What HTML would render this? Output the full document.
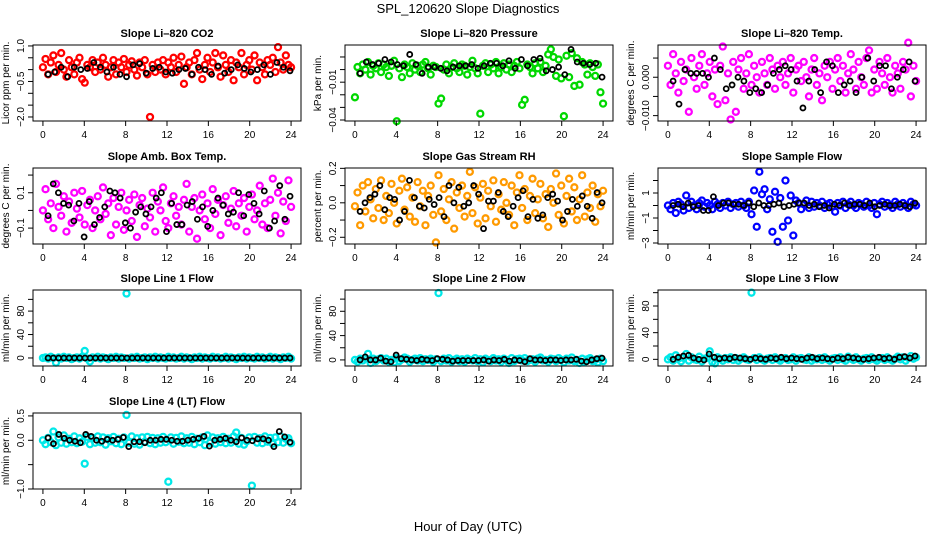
<!DOCTYPE html>
<html><head><meta charset="utf-8"><style>
body{margin:0;background:#fff}
svg{display:block;font-family:"Liberation Sans",sans-serif}
</style></head><body>
<svg id="c" width="936" height="540" viewBox="0 0 936 540">
<text x="468" y="13" text-anchor="middle" font-size="13">SPL_120620  Slope Diagnostics</text>
<text x="468" y="531" text-anchor="middle" font-size="13">Hour of Day (UTC)</text>
</svg>
<script>
const xTicks=[0,4,8,12,16,20,24];
const co2=[0.1,0.45,-0.2,0.3,0.6,-0.1,0.2,0.7,0.0,-0.3,0.4,0.1,-0.2,0.3,0.5,-0.4,-0.55,0.2,0.1,0.4,-0.1,0.3,0.0,0.5,0.2,-0.3,0.1,0.4,-0.2,0.3,0.1,0.45,-0.1,0.2,0.35,0.0,-0.25,0.3,0.1,0.4,-0.2,-2.0,0.2,-0.1,0.3,0.0,0.4,-0.2,0.3,0.1,0.5,-0.1,0.2,0.55,-0.6,0.1,0.3,-0.2,0.4,0.7,0.0,-0.4,0.2,0.5,-0.1,0.3,0.7,0.1,-0.3,0.6,0.2,-0.1,0.4,-0.45,0.3,0.1,0.7,-0.2,0.2,0.4,0.0,0.6,-0.45,0.3,0.1,-0.2,0.4,0.2,0.5,-0.1,0.95,0.3,0.0,0.6,0.2,0.1];
const co2K=[-0.2,-0.1,0.1,-0.3,0.1,0.0,0.05,0.3,0.1,-0.1,0.1,-0.2,-0.3,0.2,0.25,-0.15,0.05,0.1,-0.1,-0.15,0.0,0.05,-0.2,0.1,0.0,-0.2,0.15,-0.15,0.0,0.2,0.05,-0.1,0.0,0.2,-0.2,0.3,0.1,-0.05];
const press=[-0.022,0.002,-0.003,0.004,0.000,0.006,-0.004,0.003,0.001,0.005,-0.002,0.004,0.002,-0.005,0.003,0.007,-0.041,0.001,-0.006,0.004,0.002,-0.003,0.005,0.000,0.003,-0.002,0.004,0.006,0.001,-0.004,0.003,0.002,-0.027,-0.023,0.000,0.004,-0.003,0.002,0.005,0.001,-0.002,0.004,0.003,-0.004,0.002,0.007,0.001,-0.003,-0.035,0.003,0.005,-0.002,0.004,0.001,0.006,-0.003,0.002,0.005,0.000,0.004,-0.002,0.003,0.006,0.001,-0.028,-0.024,0.004,0.002,-0.003,0.005,0.001,0.006,-0.002,0.003,0.012,0.016,0.010,-0.005,0.008,-0.007,-0.037,0.011,-0.006,0.013,-0.013,0.009,-0.012,0.006,0.004,-0.004,0.005,0.002,-0.005,0.004,-0.018,-0.027];
const pressK=[-0.003,0.006,0.004,0.005,0.008,0.006,0.004,0.003,0.012,0.004,-0.003,0.002,0.002,0.001,-0.001,0.002,0.003,0.003,0.004,0.001,0.003,0.005,0.005,0.003,0.007,0.001,0.008,0.003,0.008,0.009,-0.001,0.000,0.002,-0.004,0.016,0.006,0.005,0.004,0.005,-0.006];
const temp=[0.003,-0.002,0.006,0.001,-0.004,0.004,-0.001,0.002,-0.009,0.005,0.000,-0.003,0.003,0.006,-0.002,0.001,0.004,-0.005,0.002,-0.007,0.003,0.008,-0.006,0.001,-0.011,0.004,-0.009,0.002,0.005,-0.003,0.001,0.006,-0.002,0.003,0.000,-0.004,0.004,0.001,-0.002,0.005,0.002,-0.003,0.003,0.000,0.004,-0.002,0.001,0.005,-0.004,0.002,0.003,-0.001,0.004,0.000,-0.005,0.002,0.005,-0.002,0.001,-0.006,0.003,0.000,0.004,-0.003,0.002,0.005,-0.001,0.003,-0.004,0.001,0.006,0.002,-0.003,0.004,0.000,-0.002,0.005,0.007,-0.004,0.002,-0.003,0.004,0.001,-0.002,0.005,0.000,-0.004,0.003,0.001,-0.003,0.004,0.002,0.009,-0.005,0.003,-0.001];
const tempK=[-0.001,-0.007,0.002,0.001,0.001,0.001,0.000,0.005,0.002,-0.003,-0.002,0.000,-0.001,-0.004,-0.003,-0.004,-0.002,0.001,0.002,0.003,0.002,-0.001,-0.008,-0.001,0.002,-0.004,0.004,0.003,-0.004,-0.002,-0.001,-0.004,0.000,0.005,-0.001,0.003,0.003,-0.003,0.000,0.002,0.004,-0.001];
const amb=[0.0,0.12,-0.05,0.04,-0.1,0.15,0.02,-0.03,0.08,-0.12,0.05,-0.07,0.1,0.01,-0.04,0.11,-0.08,0.03,0.06,-0.1,0.0,0.08,-0.05,0.13,-0.02,0.04,-0.14,0.07,-0.08,0.02,0.1,-0.11,0.0,0.06,-0.06,0.09,-0.15,0.03,0.07,-0.09,0.01,-0.04,0.1,-0.12,0.05,0.0,0.13,-0.06,-0.1,0.04,0.08,-0.03,0.02,-0.08,0.06,0.15,-0.12,0.02,0.07,-0.16,0.0,0.09,-0.05,0.04,-0.1,0.12,-0.02,0.06,-0.14,0.03,0.08,-0.07,0.01,0.11,-0.09,0.04,-0.03,0.07,-0.12,0.02,0.09,-0.05,0.0,0.14,-0.08,0.04,-0.1,0.06,0.18,-0.03,0.1,-0.13,0.05,-0.06,0.17,0.02];
const ambK=[-0.03,0.15,0.1,0.04,0.03,-0.06,0.04,-0.15,0.05,-0.08,-0.04,0.02,0.11,0.1,0.07,-0.07,-0.1,-0.01,0.02,-0.02,0.02,0.07,0.1,-0.12,0.04,-0.08,-0.08,0.03,0.05,-0.05,0.02,-0.09,0.0,0.07,0.03,-0.02,-0.01,0.1,-0.03,0.09,0.04,-0.02,0.11,-0.1,-0.06,0.14,-0.05,0.08];
const rh=[-0.02,0.06,-0.13,0.1,-0.05,0.12,0.02,-0.09,0.08,-0.03,0.13,-0.1,0.04,-0.06,0.11,0.0,-0.12,0.07,0.14,-0.04,0.09,-0.08,0.03,-0.11,0.12,-0.02,0.07,-0.13,0.04,0.1,-0.07,-0.23,0.16,-0.05,0.08,-0.1,0.02,0.12,-0.15,0.06,-0.03,0.1,-0.08,0.04,0.18,-0.06,0.09,-0.12,0.03,0.11,-0.09,0.07,-0.02,0.13,-0.11,0.05,-0.04,0.12,0.0,-0.07,0.1,-0.13,0.06,0.16,-0.03,0.08,-0.1,0.04,0.14,-0.06,0.02,0.11,-0.09,0.05,-0.14,0.08,0.0,0.17,-0.07,0.1,-0.12,0.04,0.14,-0.05,0.09,-0.1,0.02,0.16,-0.08,0.06,-0.03,0.1,-0.11,0.05,-0.02,0.07];
const rhK=[-0.05,0.0,0.03,0.05,0.1,-0.04,0.03,0.02,-0.1,-0.05,0.13,0.03,-0.02,-0.03,0.02,-0.01,0.03,-0.08,0.1,0.0,0.09,-0.02,0.0,0.1,0.05,-0.15,0.01,0.01,0.06,-0.05,-0.08,-0.02,0.03,0.07,-0.08,0.02,-0.09,-0.07,0.03,0.05,0.01,-0.1,-0.05,0.02,-0.02,0.04,-0.02,-0.09,0.06,0.0];
const samp=[0.0,-0.3,0.2,-0.6,0.3,0.1,-0.4,0.8,-0.2,0.3,0.0,-0.3,0.2,0.4,-0.1,0.2,0.0,-0.3,0.3,0.1,-0.2,0.2,0.0,0.3,-0.2,0.1,0.2,-0.1,0.3,0.0,-0.2,0.3,-0.7,1.2,-1.7,2.7,0.9,1.3,-0.3,0.5,-2.1,1.1,-2.9,0.6,-1.7,2.0,-1.2,0.8,-2.4,0.4,0.2,-0.3,0.1,0.4,-0.2,0.3,-0.1,0.2,0.0,0.3,-0.2,0.1,0.2,-0.1,-0.5,0.2,0.0,0.3,-0.2,0.1,0.3,0.0,-0.2,0.2,0.1,-0.1,0.3,0.0,-0.2,0.2,-0.7,0.1,0.3,-0.1,0.2,0.0,-0.2,0.3,0.1,-0.1,0.2,0.0,-0.2,0.3,0.1,0.0];
const sampK=[0.0,0.1,-0.1,0.2,-0.1,0.0,-0.4,-0.4,0.7,0.0,0.2,0.2,0.1,0.1,0.0,0.2,-0.1,0.2,0.0,0.0,0.1,0.2,-0.1,0.0,0.1,0.2,0.2,0.0,0.1,-0.1,0.0,-0.2,0.1,0.0,0.2,0.0,0.1,0.1,0.0,0.2,-0.1,0.0,0.1,0.0,0.0,0.1,0.0,-0.1,0.2];
const line1=[0,1,-1,2,0,-8,1,-1,2,0,1,-2,0,1,-1,2,12,-1,-6,1,0,2,-1,1,0,-2,1,0,2,-1,1,0,110,-1,1,0,2,-1,0,1,-2,1,0,2,-1,1,0,-1,2,0,1,-1,0,2,-1,1,0,-2,1,0,2,-1,1,0,-1,2,0,1,-1,0,2,-1,1,0,-2,1,0,2,-1,1,0,-1,2,0,1,-1,0,2,-1,1,0,-2,1,0,2,-1];
const line1K=[0,0,0,0,0,0,0,0,0,0,0,0,0,0,0,0,0,0,0,0,0,0,0,0,0,0,0,0,0,0,0,0,0,0,0,0,0,0,0,0,0,0,0,0,0,0,0];
const line2=[0,-3,2,-1,3,10,-5,2,-2,1,3,-1,2,-3,0,-4,3,-2,1,4,2,-3,0,2,-1,3,-2,1,0,2,-3,1,110,-2,2,-1,3,-3,0,2,-2,1,-3,2,0,-1,3,-2,1,-4,2,0,-2,3,-1,1,-3,2,0,-5,3,-2,1,2,-1,3,-2,0,1,-3,2,4,-1,0,-3,2,1,-2,3,0,-4,2,-1,4,-2,0,-5,2,-3,1,3,-2,0,-4,2,-2];
const line2K=[0,5,0,0,3,-2,-3,8,2,1,0,-1,1,0,-1,2,1,0,-2,-1,-1,-1,-1,-1,0,-2,0,-1,1,-2,0,-1,-3,2,0,0,-1,0,0,-1,0,0,1,-2,-3,0,2,3];
const line3=[0,3,-2,6,1,-3,2,8,-2,3,0,-1,4,-3,1,2,12,-4,-6,3,1,-2,2,0,3,-1,2,-2,1,3,0,-1,100,2,-1,3,0,-2,1,2,-1,3,0,-2,1,2,-1,0,3,-2,1,2,0,-1,3,-2,1,0,2,-1,3,0,-2,1,2,-1,3,0,-2,4,1,-1,3,0,-2,1,2,-1,3,0,-2,1,2,-1,3,0,-2,1,4,0,3,-2,2,5,1,3];
const line3K=[0,3,5,6,2,0,-1,8,3,1,2,1,3,2,1,0,2,1,0,2,1,3,1,2,1,0,2,3,1,2,1,0,2,1,3,2,1,0,1,2,3,1,2,0,3,4,2,5];
const line4=[0.0,-0.08,0.05,-0.04,0.18,-0.1,0.06,-0.05,0.1,-0.07,0.03,-0.04,0.08,-0.06,0.04,-0.03,-0.48,0.07,-0.08,0.05,-0.05,0.08,-0.04,0.06,-0.09,0.04,-0.02,0.07,-0.06,0.03,-0.08,0.06,0.52,-0.05,0.08,-0.07,0.04,-0.09,0.06,-0.03,0.07,-0.06,0.05,-0.08,0.04,-0.05,0.07,-0.04,-0.85,0.06,-0.07,0.05,-0.03,0.08,-0.06,0.04,-0.05,0.07,-0.08,0.03,-0.04,0.06,-0.1,0.1,-0.05,0.06,-0.07,0.04,-0.04,0.07,-0.06,0.03,-0.05,0.08,0.16,-0.07,0.05,-0.09,-0.02,0.06,-0.93,0.07,-0.05,0.04,-0.06,0.08,-0.03,0.05,-0.07,0.06,-0.04,0.08,-0.05,0.03,0.04,-0.06];
const line4K=[0.05,-0.07,0.12,0.04,0.0,-0.02,-0.05,0.12,0.08,0.0,-0.02,0.02,0.0,0.02,0.06,-0.13,-0.03,-0.03,-0.05,0.0,0.0,0.02,0.02,0.0,-0.02,-0.02,0.0,0.02,0.04,0.08,-0.12,0.0,0.02,0.04,0.0,-0.03,0.05,0.0,-0.01,0.03,0.03,0.0,-0.13,0.18,0.07,-0.04];

const panels=[
 {name:'li820-co2',title:'Slope Li\u2013820 CO2',ylab:'Licor ppm per min.',col:0,row:0,ymin:-2.17,ymax:1.04,ticks:[-2,-1.5,-1,-0.5,0,0.5,1],labels:[[1,'1.0'],[-0.5,'\u22120.5'],[-2,'\u22122.0']],data:co2,k:co2K,color:'#ff0000'},
 {name:'li820-pressure',title:'Slope Li\u2013820 Pressure',ylab:'kPa per min.',col:1,row:0,ymin:-0.0408,ymax:0.0195,ticks:[0.01,0,-0.01,-0.02,-0.03,-0.04],labels:[[-0.01,'\u22120.01'],[-0.04,'\u22120.04']],data:press,k:pressK,color:'#00d800'},
 {name:'li820-temp',title:'Slope Li\u2013820 Temp.',ylab:'degrees C per min.',col:2,row:0,ymin:-0.0114,ymax:0.0084,ticks:[0.005,0,-0.005,-0.01],labels:[[0,'0.000'],[-0.01,'\u22120.010']],data:temp,k:tempK,color:'#ff00ff'},
 {name:'amb-box-temp',title:'Slope Amb. Box Temp.',ylab:'degrees C per min.',col:0,row:1,ymin:-0.19,ymax:0.24,ticks:[0.2,0.1,0,-0.1],labels:[[0.1,'0.1'],[-0.1,'\u22120.1']],data:amb,k:ambK,color:'#ff00ff'},
 {name:'gas-stream-rh',title:'Slope Gas Stream RH',ylab:'percent per min.',col:1,row:1,ymin:-0.239,ymax:0.202,ticks:[0.2,0.1,0,-0.1,-0.2],labels:[[0.2,'0.2'],[0,'0.0'],[-0.2,'\u22120.2']],data:rh,k:rhK,color:'#ff9a00'},
 {name:'sample-flow',title:'Slope Sample Flow',ylab:'ml/min per min.',col:2,row:1,ymin:-3.08,ymax:3.0,ticks:[2,1,0,-1,-2,-3],labels:[[1,'1'],[-1,'\u22121'],[-3,'\u22123']],data:samp,k:sampK,color:'#0000ff'},
 {name:'line1-flow',title:'Slope Line 1 Flow',ylab:'ml/min per min.',col:0,row:2,ymin:-13.7,ymax:116,ticks:[0,20,40,60,80,100],labels:[[0,'0'],[40,'40'],[80,'80']],data:line1,k:line1K,color:'#00e8e8'},
 {name:'line2-flow',title:'Slope Line 2 Flow',ylab:'ml/min per min.',col:1,row:2,ymin:-10,ymax:115,ticks:[0,20,40,60,80,100],labels:[[0,'0'],[40,'40'],[80,'80']],data:line2,k:line2K,color:'#00e8e8'},
 {name:'line3-flow',title:'Slope Line 3 Flow',ylab:'ml/min per min.',col:2,row:2,ymin:-10,ymax:104,ticks:[0,20,40,60,80,100],labels:[[0,'0'],[40,'40'],[80,'80']],data:line3,k:line3K,color:'#00e8e8'},
 {name:'line4-lt-flow',title:'Slope Line 4 (LT) Flow',ylab:'ml/min per min.',col:0,row:3,ymin:-1.0,ymax:0.56,ticks:[0.5,0,-0.5,-1],labels:[[0.5,'0.5'],[0,'0.0'],[-1,'\u22121.0']],data:line4,k:line4K,color:'#00e8e8'}
];
const NS='http://www.w3.org/2000/svg';
const svg=document.getElementById('c');
const BX=[33,345,658],BY=[45,168,290,413],BW=268,BH=76;
function mk(tag,attrs,parent){const e=document.createElementNS(NS,tag);for(const k in attrs)e.setAttribute(k,attrs[k]);parent.appendChild(e);return e;}
panels.forEach(p=>{
 const x0=BX[p.col],y0=BY[p.row];
 const g=mk('g',{},svg);
 
 
 const xs=h=>x0+BW*(h+0.96)/25.92;
 const ys=v=>y0+BH*(p.ymax-v)/(p.ymax-p.ymin);
 const t=mk('text',{x:x0+BW/2,y:y0-8,'text-anchor':'middle','font-size':11,'font-weight':'bold'},g);t.textContent=p.title;
 
 
 const yl=mk('text',{transform:`translate(${x0-24},${y0+BH/2}) rotate(-90)`,'text-anchor':'middle','font-size':10},g);yl.textContent=p.ylab;
 
 
 const cg=mk('g',{},g);
 
 
 const n=p.data.length;
 p.data.forEach((v,i)=>{const c=mk('circle',{cx:xs(i*24/(n-1)),cy:ys(v),r:3,fill:'none',stroke:p.color,'stroke-width':2.3},cg);
  
  });
 const m=p.k.length;
 p.k.forEach((v,i)=>{const c=mk('circle',{cx:xs(0.5+i*23.4/(m-1)),cy:ys(v),r:2.5,fill:'none',stroke:'#000','stroke-width':1.8},cg);
  
  });
 const box=mk('rect',{x:x0,y:y0,width:BW,height:BH,fill:'none',stroke:'#000','stroke-width':1},g);
 
 
 xTicks.forEach(h=>{const X=xs(h);mk('line',{x1:X,x2:X,y1:y0+BH,y2:y0+BH+5,stroke:'#000'},g);
  const l=mk('text',{x:X,y:y0+BH+17,'text-anchor':'middle','font-size':10},g);l.textContent=h;
  
  });
 p.ticks.forEach(v=>{const Y=ys(v);mk('line',{x1:x0-5,x2:x0,y1:Y,y2:Y,stroke:'#000'},g);});
 p.labels.forEach(([v,s])=>{const l=mk('text',{transform:`translate(${x0-9},${ys(v)}) rotate(-90)`,'text-anchor':'middle','font-size':10},g);l.textContent=s;
  
  });
});
</script>
</body></html>
